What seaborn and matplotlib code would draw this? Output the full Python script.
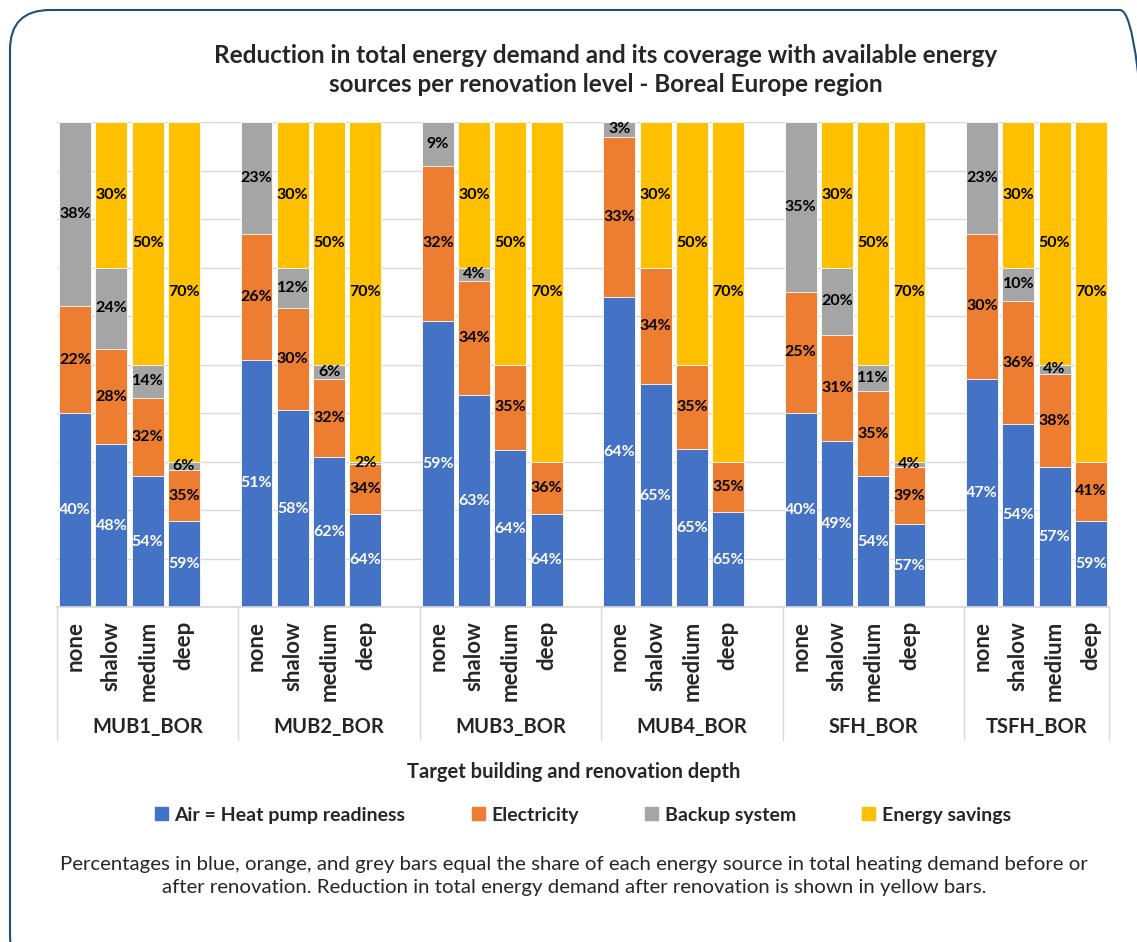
import matplotlib
matplotlib.use("Agg")
import matplotlib.pyplot as plt
import matplotlib.patches as mpatches
from matplotlib.transforms import IdentityTransform, blended_transform_factory
import pandas as pd
import seaborn as sns

sns.set_theme(style="white")
plt.rcParams["font.family"] = ["Lato", "DejaVu Sans"]

## DATA
buildings = ["MUB1_BOR", "MUB2_BOR", "MUB3_BOR", "MUB4_BOR", "SFH_BOR", "TSFH_BOR"]
levels = ["none", "shalow", "medium", "deep"]
savings = [0, 30, 50, 70]  # yellow, % of total demand

# share of remaining demand, per building, per level
air = [
    [40, 48, 54, 59],
    [51, 58, 62, 64],
    [59, 63, 64, 64],
    [64, 65, 65, 65],
    [40, 49, 54, 57],
    [47, 54, 57, 59],
]
electricity = [
    [22, 28, 32, 35],
    [26, 30, 32, 34],
    [32, 34, 35, 36],
    [33, 34, 35, 35],
    [25, 31, 35, 39],
    [30, 36, 38, 41],
]
backup = [
    [38, 24, 14, 6],
    [23, 12, 6, 2],
    [9, 4, 0, 0],
    [3, 0, 0, 0],
    [35, 20, 11, 4],
    [23, 10, 4, 0],
]

BLUE, ORANGE, GREY, YELLOW = "#4472C4", "#ED7D31", "#A5A5A5", "#FFC000"
W, H = 1137, 942

## BUILD TABLE
rows = []
order = []
for b, bld in enumerate(buildings):
    for l, lvl in enumerate(levels):
        key = f"{bld}|{lvl}"
        order.append(key)
        rest = 100 - savings[l]
        tot = air[b][l] + electricity[b][l] + backup[b][l]
        h_air = air[b][l] / tot * rest
        h_el = electricity[b][l] / tot * rest
        h_bk = backup[b][l] / tot * rest
        rows.append({
            "slot": key, "building": bld, "level": lvl,
            "air": air[b][l], "el": electricity[b][l], "bk": backup[b][l], "sv": savings[l],
            "top_air": h_air, "top_el": h_air + h_el, "top_bk": h_air + h_el + h_bk, "top_sv": 100,
        })
    if b < len(buildings) - 1:
        order.append(" " * (b + 1))  # empty slot between groups
df = pd.DataFrame(rows)

## PLOT
fig = plt.figure(figsize=(W / 100, H / 100), dpi=100)
ax = fig.add_axes([57 / W, 1 - 607 / H, 1052 / W, 485 / H])

for col, color in [("top_sv", YELLOW), ("top_bk", GREY), ("top_el", ORANGE), ("top_air", BLUE)]:
    sns.barplot(data=df, x="slot", y=col, order=order, color=color, saturation=1,
                width=0.88, errorbar=None, ax=ax, edgecolor="white", linewidth=0.6)

ax.set_ylim(0, 100)
ax.set_xlim(-0.5, len(order) - 0.5)
ax.set_yticks(range(0, 101, 10))
ax.set_yticklabels([])
ax.yaxis.grid(True, color="#D9D9D9", linewidth=1)
ax.set_axisbelow(True)
for s in ["top", "left", "right"]:
    ax.spines[s].set_visible(False)
ax.spines["bottom"].set_color("#D9D9D9")
ax.set_xlabel("")
ax.set_ylabel("")

pos = {k: i for i, k in enumerate(order)}
ax.set_xticks(range(len(order)))
ax.set_xticklabels([k.split("|")[1] if "|" in k else "" for k in order],
                   rotation=90, fontsize=16, fontweight="bold")
ax.tick_params(axis="x", length=0, pad=10)

# segment labels
for _, r in df.iterrows():
    x = pos[r["slot"]]
    segs = [
        (0, r["top_air"], r["air"], "white"),
        (r["top_air"], r["top_el"], r["el"], "black"),
        (r["top_el"], r["top_bk"], r["bk"], "black"),
        (r["top_bk"], 100, r["sv"], "black"),
    ]
    for lo, hi, val, tc in segs:
        if val > 0:
            ax.text(x, (lo + hi) / 2, f"{val:.0f}%", ha="center", va="center",
                    color=tc, fontsize=11.5, fontweight="bold")

# group separators and group labels
trans = blended_transform_factory(ax.transData, ax.transAxes)
bounds = [-0.5]
for b in range(len(buildings)):
    bounds.append(pos[f"{buildings[b]}|deep"] + (1.5 if b < len(buildings) - 1 else 0.5))
for xb in bounds:
    ax.plot([xb, xb], [0, -(740 - 607) / 485], transform=trans, color="#D9D9D9",
            linewidth=1, clip_on=False)
for b, bld in enumerate(buildings):
    ax.text((bounds[b] + bounds[b + 1]) / 2, -(727 - 607) / 485, bld, transform=trans,
            ha="center", va="center", fontsize=14.5, fontweight="bold")

## TEXTS
fig.text(606 / W, 1 - 70 / H,
         "Reduction in total energy demand and its coverage with available energy\n"
         "sources per renovation level - Boreal Europe region",
         ha="center", va="center", fontsize=17.5, fontweight="bold", linespacing=1.28)
fig.text(574 / W, 1 - 772 / H, "Target building and renovation depth",
         ha="center", va="center", fontsize=14.5, fontweight="bold")

handles = [mpatches.Patch(color=c) for c in [BLUE, ORANGE, GREY, YELLOW]]
fig.legend(handles, ["Air = Heat pump readiness", "Electricity", "Backup system", "Energy savings"],
           loc="center", bbox_to_anchor=(583 / W, 1 - 815 / H), ncol=4, frameon=False,
           prop={"size": 14, "weight": "bold"}, handlelength=0.67, handleheight=0.67,
           handletextpad=0.35, columnspacing=3.4)

fig.text(574 / W, 1 - 876 / H,
         "Percentages in blue, orange, and grey bars equal the share of each energy source in total heating demand before or\n"
         "after renovation. Reduction in total energy demand after renovation is shown in yellow bars.",
         ha="center", va="center", fontsize=14.7, linespacing=1.37)

# rounded frame
frame = mpatches.FancyBboxPatch((10, H - 975), 1150, 965, boxstyle="round,pad=0,rounding_size=40",
                                transform=IdentityTransform(), facecolor="none",
                                edgecolor="#1F4E79", linewidth=1.5)
fig.patches.append(frame)

fig.savefig("out.png", dpi=100)
